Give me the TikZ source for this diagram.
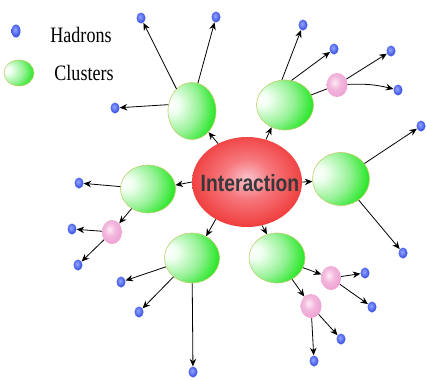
\documentclass[tikz,border=0pt]{standalone}
\usepackage{fontspec}
\newfontfamily\labelfont{Liberation Sans}
\newfontfamily\legendfont{Liberation Serif}
\usetikzlibrary{shapes.geometric,arrows.meta}
\definecolor{gedge}{RGB}{195,205,110}
\definecolor{gmain}{RGB}{10,228,10}
\definecolor{glight}{RGB}{240,255,240}
\definecolor{gmid}{RGB}{150,242,150}
\definecolor{rlight}{RGB}{250,195,205}
\definecolor{rmid}{RGB}{246,120,125}
\definecolor{rdark}{RGB}{240,62,62}
\definecolor{plight}{RGB}{255,235,245}
\definecolor{pmain}{RGB}{238,160,210}
\definecolor{blight}{RGB}{150,165,255}
\definecolor{bmain}{RGB}{50,75,225}
\definecolor{txtgray}{RGB}{55,55,60}
\pgfdeclareradialshading{greenball}{\pgfpoint{-22bp}{6bp}}{color(0bp)=(white); color(7bp)=(glight); color(24bp)=(gmid); color(42bp)=(gmain); color(100bp)=(gmain)}
\pgfdeclareradialshading{redball}{\pgfpoint{0bp}{2bp}}{color(0bp)=(rlight); color(11bp)=(rmid); color(26bp)=(rdark); color(100bp)=(rdark)}
\pgfdeclareradialshading{pinkball}{\pgfpoint{-6bp}{6bp}}{color(0bp)=(plight); color(14bp)=(pmain!75!white); color(30bp)=(pmain); color(100bp)=(pmain)}
\pgfdeclareradialshading{blueball}{\pgfpoint{-6bp}{6bp}}{color(0bp)=(blight); color(28bp)=(bmain); color(100bp)=(bmain)}
\tikzset{
  cluster/.style={ellipse, inner sep=0pt, draw=gedge, line width=0.6pt, shading=greenball},
  inter/.style={ellipse, inner sep=0pt, shading=redball, minimum width=110pt, minimum height=90pt},
  pinkc/.style={ellipse, inner sep=0pt, shading=pinkball, minimum width=21pt, minimum height=24pt},
  hadron/.style={ellipse, inner sep=0pt, shading=blueball, minimum width=9pt, minimum height=11pt},
  arr/.style={-{Stealth[length=7.5pt,width=6.5pt]}, line width=0.8pt, black},
  plainline/.style={line width=0.8pt, black},
  legtext/.style={font=\legendfont\fontsize{22}{24}\selectfont, xscale=0.82, anchor=base, inner sep=0pt}
}
\begin{document}
\begin{tikzpicture}[x=1pt,y=-1pt]
\useasboundingbox (0,0) rectangle (426,380);
% legend
\node[hadron, minimum width=9pt, minimum height=13pt] (lh) at (16,31) {};
\node[legtext] (lht) at (81,42) {Hadrons};
\node[cluster, minimum width=30pt, minimum height=26pt] (lc) at (19,73) {};
\node[legtext] (lct) at (84,80) {Clusters};
% main
\node[inter] (I) at (247,182) {};
\node[font=\labelfont\bfseries\fontsize{23.5}{26}\selectfont, text=txtgray, xscale=0.82] (It) at (250,183) {Interaction};
\node[cluster, minimum width=48pt, minimum height=57pt] (C1) at (192,111) {};
\node[cluster, minimum width=57pt, minimum height=50pt] (C2) at (285,105) {};
\node[cluster, minimum width=57pt, minimum height=53pt] (C3) at (341,179) {};
\node[cluster, minimum width=55pt, minimum height=48pt] (C4) at (148,189) {};
\node[cluster, minimum width=55pt, minimum height=50pt] (C5) at (192,258) {};
\node[cluster, minimum width=56pt, minimum height=50pt] (C6) at (277,258) {};
\node[pinkc] (P1) at (337,85) {};
\node[pinkc, minimum width=20pt] (P2) at (112,232) {};
\node[pinkc, minimum width=20pt] (P3) at (331,278) {};
\node[pinkc] (P4) at (311,306) {};
\foreach \n/\p in {h1/{141,18}, h2/{216,17}, h3/{115,108}, h4/{303,25}, h5/{334,49}, h6/{391,51}, h7/{398,90}, h8/{421,126}, h9/{403,253}, h10/{79,183}, h11/{72,229}, h12/{78,265}, h13/{121,282}, h14/{139,312}, h15/{193,372}, h16/{365,273}, h17/{372,307}, h18/{341,339}, h19/{314,361}}
  \node[hadron] (\n) at (\p) {};
% interaction to clusters
\draw[arr] (I.127) -- (C1.-52);
\draw[arr] (I.66) -- (C2.-121);
\draw[arr] (I.0) -- (C3.185);
\draw[arr] (I.180) -- (C4.8);
\draw[arr] (I.230) -- (C5.57);
\draw[arr] (I.-71) -- (C6.113);
% clusters to hadrons
\draw[arr] (C1.125) -- (h1);
\draw[arr] (C1.78) -- (h2);
\draw[arr] (C1.165) -- (h3);
\draw[arr] (C2.97) -- (h4);
\draw[arr] (C2.75) -- (h5);
\draw[plainline] (C2) -- (P1);
\draw[arr] (P1) -- (h6);
\draw[arr] (P1) to[bend left=8] (h7);
\draw[arr] (C3) -- (h8);
\draw[arr] (C3) -- (h9);
\draw[arr] (C4) -- (h10);
\draw[arr] (C4) -- (P2);
\draw[arr] (P2) -- (h11);
\draw[arr] (P2) -- (h12);
\draw[arr] (C5) -- (h13);
\draw[arr] (C5) -- (h14);
\draw[arr] (C5) -- (h15);
\draw[arr] (C6) -- (P3);
\draw[arr] (C6) -- (P4);
\draw[arr] (P3) -- (h16);
\draw[arr] (P3) -- (h17);
\draw[arr] (P4) -- (h18);
\draw[arr] (P4) -- (h19);
\end{tikzpicture}
\end{document}
